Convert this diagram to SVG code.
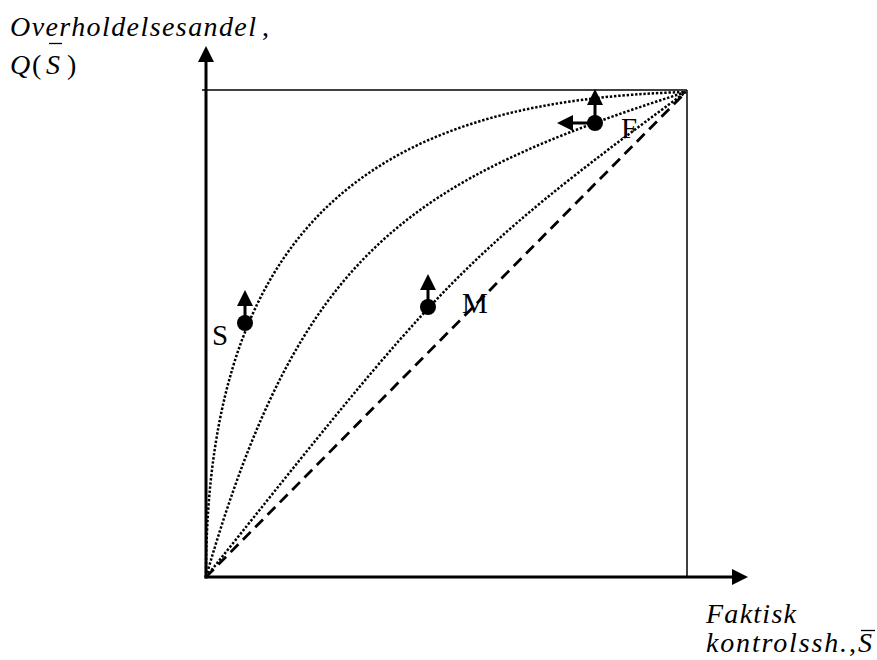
<svg xmlns="http://www.w3.org/2000/svg" width="877" height="660" viewBox="0 0 877 660">
<style>
.t{font-family:"Liberation Serif","Times New Roman",serif;fill:#000}
.i{font-style:italic}
.ax{stroke:#000;stroke-width:3;fill:none}
.thin{stroke:#000;stroke-width:1.5;fill:none}
.dot{stroke:#000;stroke-width:2.5;stroke-dasharray:2.4 1.8;fill:none}
.dash{stroke:#000;stroke-width:2.8;stroke-dasharray:11 6.5;fill:none}
.bar{stroke:#000;stroke-width:1.3}
</style>
<defs>
<marker id="ah" viewBox="0 0 16 16" markerWidth="16" markerHeight="16" markerUnits="userSpaceOnUse" refX="0" refY="8" orient="auto">
<path d="M0,0 L16,8 L0,16 z" fill="#000"/>
</marker>
</defs>
<rect width="877" height="660" fill="#fff"/>
<g id="frame">
<line class="thin" x1="202" y1="90" x2="687" y2="90"/>
<line class="thin" x1="687" y1="90" x2="687" y2="577"/>
</g>
<g id="axes">
<line class="ax" x1="206" y1="578.5" x2="206" y2="62" marker-end="url(#ah)"/>
<line class="ax" x1="204.5" y1="577" x2="732" y2="577" marker-end="url(#ah)"/>
</g>
<g id="connectors">
<path class="dash" d="M206,577 L686,92"/>
<path class="dot" d="M206,577 C206,200 400,100 686,92"/>
<path class="dot" d="M206,577 C300,250 410,180 686,92"/>
<path class="dot" d="M206,577 C436,289.5 456,259.9 686,92"/>
</g>
<g id="point-S">
<circle cx="245" cy="323" r="8"/>
<line class="ax" x1="245" y1="323" x2="245" y2="306" marker-end="url(#ah)"/>
<text class="t" x="212" y="345" font-size="29">S</text>
</g>
<g id="point-M">
<circle cx="428" cy="307" r="8"/>
<line class="ax" x1="428" y1="307" x2="428" y2="290" marker-end="url(#ah)"/>
<text class="t" x="462" y="313" font-size="29">M</text>
</g>
<g id="point-F">
<circle cx="595" cy="123" r="8"/>
<line class="ax" x1="595" y1="123" x2="595" y2="105" marker-end="url(#ah)"/>
<line class="ax" x1="595" y1="123" x2="573" y2="123" marker-end="url(#ah)"/>
<text class="t" x="621" y="138" font-size="29">F</text>
</g>
<g id="label-y">
<text class="t i" x="10" y="36" font-size="28" textLength="246" lengthAdjust="spacing">Overholdelsesandel</text>
<text class="t" x="262" y="36" font-size="28">,</text>
<text class="t i" x="10" y="74" font-size="28">Q</text>
<text class="t" x="32" y="74" font-size="28">(</text>
<text class="t i" x="46" y="74" font-size="28">S</text>
<line class="bar" x1="49" y1="43.5" x2="62" y2="43.5"/>
<text class="t" x="67" y="74" font-size="28">)</text>
</g>
<g id="label-x">
<text class="t i" x="706" y="623" font-size="28" textLength="90" lengthAdjust="spacing">Faktisk</text>
<text class="t i" x="706" y="652" font-size="28" textLength="141" lengthAdjust="spacing">kontrolssh.</text>
<text class="t" x="849" y="652" font-size="28">,</text>
<text class="t i" x="858" y="652" font-size="28">S</text>
<line class="bar" x1="861" y1="630.5" x2="875" y2="630.5"/>
</g>
</svg>
